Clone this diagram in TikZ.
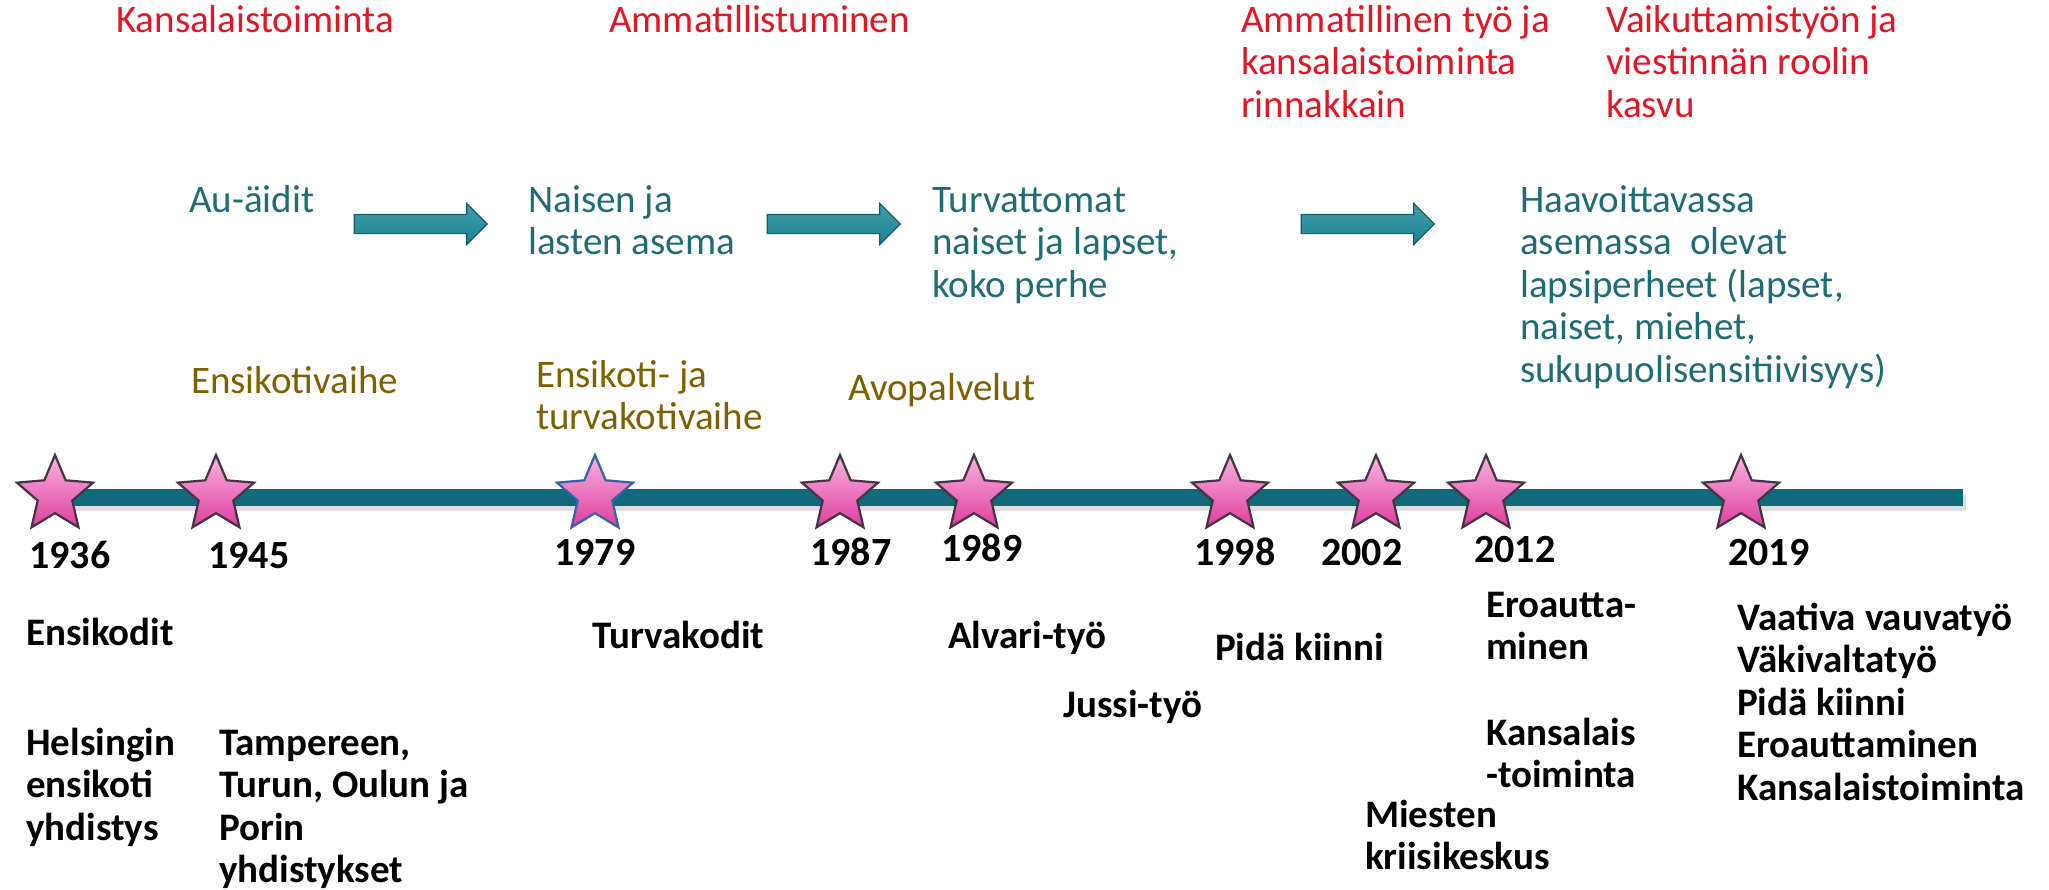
\documentclass[tikz,border=0pt]{standalone}
\usepackage{fontspec}
\setmainfont{Carlito}
\usetikzlibrary{shapes.geometric,shapes.arrows}
\definecolor{redtxt}{RGB}{228,22,36}
\definecolor{tealtxt}{RGB}{30,108,118}
\definecolor{olivetxt}{RGB}{127,96,0}
\definecolor{barcol}{RGB}{16,106,124}
\definecolor{arrfill}{RGB}{24,132,148}
\definecolor{arrdraw}{RGB}{18,92,106}
\definecolor{starlight}{RGB}{250,178,222}
\definecolor{stardark}{RGB}{222,62,160}
\definecolor{staredge}{RGB}{66,52,66}
\definecolor{staredgeblue}{RGB}{52,98,168}
\newcommand{\fl}{\rule{0pt}{32pt}}
\tikzset{
  blk/.style={anchor=north west, inner sep=0pt, align=left, font=\fontsize{39}{42.5}\selectfont},
  redblk/.style={blk, text=redtxt},
  tealblk/.style={blk, text=tealtxt},
  oliveblk/.style={blk, text=olivetxt},
  boldblk/.style={blk, text=black, font=\fontsize{39}{42.5}\selectfont\bfseries},
  yearlbl/.style={anchor=base west, inner sep=0pt, text=black, font=\fontsize{40}{44}\selectfont\bfseries},
  starnode/.style={star, star points=5, star point ratio=2.2, inner sep=0pt, minimum size=80pt,
    top color=starlight, bottom color=stardark, draw=staredge, line width=2.2pt, line join=miter},
  blockarrow/.style={single arrow, inner xsep=0pt, inner ysep=9pt, minimum height=133pt,
    single arrow head extend=11pt, single arrow head indent=0pt, shape border rotate=0,
    top color=arrfill!80!white, bottom color=arrfill, draw=arrdraw, line width=1.2pt}
}
\begin{document}
\begin{tikzpicture}[x=1pt,y=-1pt]
\useasboundingbox (0,0) rectangle (2049,889);
\fill[white] (0,0) rectangle (2049,889);

% top red phase labels
\node[redblk] (r1) at (116,0) {\fl Kansalaistoiminta};
\node[redblk] (r2) at (609,0) {\fl Ammatillistuminen};
\node[redblk] (r3) at (1241,0) {\fl Ammatillinen työ ja\\kansalaistoiminta\\rinnakkain};
\node[redblk] (r4) at (1606,0) {\fl Vaikuttamistyön ja\\viestinnän roolin\\kasvu};

% teal target groups
\node[tealblk] (t1) at (189,180) {\fl Au-äidit};
\node[tealblk] (t2) at (528,180) {\fl Naisen ja\\lasten asema};
\node[tealblk] (t3) at (932,180) {\fl Turvattomat\\naiset ja lapset,\\koko perhe};
\node[tealblk] (t4) at (1520,180) {\fl Haavoittavassa\\asemassa~ olevat\\lapsiperheet (lapset,\\naiset, miehet,\\sukupuolisensitiivisyys)};

% block arrows
\node[blockarrow] (a1) at (416,224) {};
\node[blockarrow] (a2) at (829,224) {};
\node[blockarrow] (a3) at (1363,224) {};

% olive phase labels
\node[oliveblk] (o1) at (191,361) {\fl Ensikotivaihe};
\node[oliveblk] (o2) at (536,355) {\fl Ensikoti- ja\\turvakotivaihe};
\node[oliveblk] (o3) at (848,368) {\fl Avopalvelut};

% timeline bar
\fill[black!25, opacity=0.5] (42,495) rectangle (1966,511);
\node[fill=barcol, inner sep=0pt, minimum height=17pt, minimum width=1925pt, anchor=west] (bar) at (38,497.5) {};

% stars
\node[starnode] (s1936) at (55,495) {};
\node[starnode] (s1945) at (216,495) {};
\node[starnode, draw=staredgeblue] (s1979) at (595,495) {};
\node[starnode] (s1987) at (840,495) {};
\node[starnode] (s1989) at (974,495) {};
\node[starnode] (s1998) at (1230,495) {};
\node[starnode] (s2002) at (1376,495) {};
\node[starnode] (s2012) at (1486,495) {};
\node[starnode] (s2019) at (1741,495) {};

% years
\node[yearlbl] (y1936) at (29,568) {1936};
\node[yearlbl] (y1945) at (208,568) {1945};
\node[yearlbl] (y1979) at (554,565) {1979};
\node[yearlbl] (y1987) at (810,565) {1987};
\node[yearlbl] (y1989) at (941,561) {1989};
\node[yearlbl] (y1998) at (1194,565) {1998};
\node[yearlbl] (y2002) at (1321,565) {2002};
\node[yearlbl] (y2012) at (1474,562) {2012};
\node[yearlbl] (y2019) at (1728,565) {2019};

% bottom items
\node[boldblk] (b1) at (26,613) {\fl Ensikodit};
\node[boldblk] (b2) at (26,723) {\fl Helsingin\\ensikoti\\yhdistys};
\node[boldblk] (b3) at (219,723) {\fl Tampereen,\\Turun, Oulun ja\\Porin\\yhdistykset};
\node[boldblk] (b4) at (592,616) {\fl Turvakodit};
\node[boldblk] (b5) at (948,616) {\fl Alvari-työ};
\node[boldblk] (b6) at (1063,685) {\fl Jussi-työ};
\node[boldblk] (b7) at (1215,628) {\fl Pidä kiinni};
\node[boldblk] (b8) at (1486,585) {\fl Eroautta-\\minen};
\node[boldblk] (b9) at (1486,713) {\fl Kansalais\\-toiminta};
\node[boldblk] (b10) at (1365,795) {\fl Miesten\\kriisikeskus};
\node[boldblk] (b11) at (1737,598) {\fl Vaativa vauvatyö\\Väkivaltatyö\\Pidä kiinni\\Eroauttaminen\\Kansalaistoiminta};
\end{tikzpicture}
\end{document}
